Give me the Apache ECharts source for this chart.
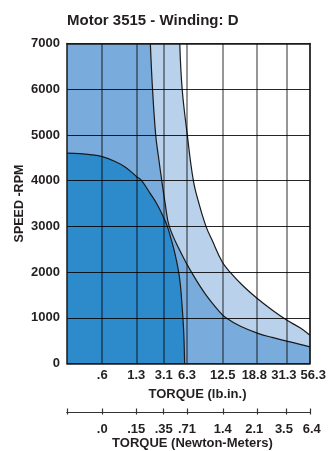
<!DOCTYPE html>
<html><head><meta charset="utf-8">
<script src="https://cdn.jsdelivr.net/npm/echarts@6/dist/echarts.min.js"></script>
<style>html,body{margin:0;padding:0;background:#fff}#c{width:332px;height:451px}</style>
</head><body><div id="c"></div>
<script>
const titleText = 'Motor 3515 - Winding: D';
const yName = 'SPEED -RPM';
const xName1 = 'TORQUE (lb.in.)';
const xName2 = 'TORQUE (Newton-Meters)';
const torqueLbIn = ['.6', '1.3', '3.1', '6.3', '12.5', '18.8', '31.3', '56.3'];
const torqueNm = ['.0', '.15', '.35', '.71', '1.4', '2.1', '3.5', '6.4'];
// positions of the torque ticks along the (non-linear) torque axis, 0..100
const tickPos = [14.5, 28.5, 39.8, 49.4, 64.1, 78.2, 90.4, 100];
const speedMin = 0, speedMax = 7000, speedStep = 1000;

// [axis position, rpm]
const darkCurve = [[0,4600],[5.3,4590],[9.5,4570],[14.5,4525],[19.8,4420],[23.9,4300],[28.7,4087],[30.7,4000],[34.2,3723],[37.0,3490],[39.6,3212],[41.3,3000],[42.8,2730],[44.4,2411],[45.8,2046],[46.7,1700],[47.3,1300],[47.7,1000],[48.1,600],[48.4,0]];
const innerCurve = [[34.3,7000],[35.2,6000],[36.5,5000],[37.7,4500],[39.0,4000],[40.4,3500],[42.1,3000],[47.1,2400],[51.2,2000],[56.8,1530],[62.8,1130],[65.4,1000],[71.2,820],[78.3,665],[84.4,570],[90.4,490],[95.9,420],[100,365]];
const outerCurve = [[46.4,7000],[47.4,6000],[49.5,5000],[52.0,4000],[54.3,3500],[57.2,3000],[59.7,2700],[63.9,2220],[67.1,2000],[72.4,1700],[78.3,1420],[84.4,1170],[90.4,950],[95.9,780],[100,620]];

const DARK = '#2d8bcc', MED = '#79acdc', LIGHT = '#b9d1eb';
const FONT = "'Liberation Sans', Arial, sans-serif";
const INK = '#231f20';
const txt = (size) => ({ fontFamily: FONT, fontWeight: 'bold', fontSize: size, color: INK });
// small horizontal nudges of individual tick labels (style only)
const nudgeLb = ['c', 'c', 'c', 'c', 'c', 'l', 'l', 'r'];
const nudgeNm = ['c', 'c', 'c', 'c', 'c', 'l', 'l', 'r2'];
const rich = {
  c: txt(13),
  l: Object.assign(txt(13), { padding: [0, 5.5, 0, 0] }),
  r: Object.assign(txt(13), { padding: [0, 0, 0, 6.5] }),
  r2: Object.assign(txt(13), { padding: [0, 0, 0, 3.5] })
};
const fmt = (arr, nudge) => v => { const i = tickPos.indexOf(v); return i >= 0 ? '{' + nudge[i] + '|' + arr[i] + '}' : ''; };
const even = tickPos.filter((v, i) => i % 2 === 0);
const odd = tickPos.filter((v, i) => i % 2 === 1);
const curveLine = { color: '#1a1a1a', width: 1.2 };
const labelAxis = (grid, vals, arr, nudge, margin) => ({
  gridIndex: grid, type: 'value', min: 0, max: 100, position: 'bottom', z: 5,
  axisLine: { show: false }, axisTick: { show: false }, splitLine: { show: false },
  axisLabel: Object.assign(txt(13), { customValues: vals, formatter: fmt(arr, nudge), rich: rich, margin: margin,
    showMaxLabel: true, showMinLabel: true, hideOverlap: false })
});

const chart = echarts.init(document.getElementById('c'), null, { renderer: 'canvas' });
chart.setOption({
  animation: false,
  backgroundColor: '#fff',
  title: {
    text: titleText, left: 67, top: 13, padding: 0,
    textStyle: txt(15)
  },
  grid: [
    { left: 67, top: 43.5, width: 243, height: 320, show: true, backgroundColor: MED, borderWidth: 0,
      containLabel: false, outerBoundsMode: 'none' },
    { left: 67, top: 412, width: 243, height: 0, containLabel: false, outerBoundsMode: 'none' }
  ],
  xAxis: [
    {
      gridIndex: 0, type: 'value', min: 0, max: 100, position: 'bottom', z: 5,
      name: xName1, nameLocation: 'middle', nameGap: 24, nameMoveOverlap: false,
      nameTextStyle: Object.assign(txt(13), { padding: [0, 0, 0, 18] }),
      axisLine: { show: true, onZero: false, lineStyle: { color: '#1a1a1a', width: 1.5 } },
      axisTick: { show: false, customValues: tickPos },
      axisLabel: { show: false },
      splitLine: { show: true, lineStyle: { color: 'rgba(0,0,0,0.55)', width: 1.5 } }
    },
    {
      gridIndex: 0, type: 'value', min: 0, max: 100, position: 'top', z: 5,
      axisLine: { show: true, onZero: false, lineStyle: { color: '#1a1a1a', width: 1.5 } },
      axisTick: { show: false }, axisLabel: { show: false }, splitLine: { show: false }
    },
    {
      gridIndex: 1, type: 'value', min: 0, max: 100, position: 'bottom',
      name: xName2, nameLocation: 'middle', nameGap: 24.5, nameMoveOverlap: false,
      nameTextStyle: Object.assign(txt(13), { padding: [0, 0, 0, 8] }),
      axisLine: { show: true, onZero: false, lineStyle: { color: '#333', width: 1.2 } },
      axisTick: { show: true, length: 2.5, customValues: [0].concat(tickPos), lineStyle: { color: '#333', width: 1.2 } },
      axisLabel: { show: false },
      splitLine: { show: false }
    },
    {
      gridIndex: 1, type: 'value', min: 0, max: 100, position: 'top',
      axisLine: { show: true, onZero: false, lineStyle: { color: '#333', width: 1.2 } },
      axisTick: { show: true, length: 3.5, customValues: [0].concat(tickPos), lineStyle: { color: '#333', width: 1.2 } },
      axisLabel: { show: false }, splitLine: { show: false }
    },
    labelAxis(0, even, torqueLbIn, nudgeLb, 5),
    labelAxis(0, odd, torqueLbIn, nudgeLb, 5),
    labelAxis(1, even, torqueNm, nudgeNm, 11),
    labelAxis(1, odd, torqueNm, nudgeNm, 11)
  ],
  yAxis: [
    {
      gridIndex: 0, type: 'value', min: speedMin, max: speedMax, interval: speedStep, z: 5,
      name: yName, nameLocation: 'middle', nameGap: 41, nameRotate: 90, nameMoveOverlap: false,
      nameTextStyle: txt(12.5),
      axisLine: { show: true, onZero: false, lineStyle: { color: '#1a1a1a', width: 1.5 } },
      axisTick: { show: false },
      axisLabel: Object.assign(txt(13), { margin: 7, padding: [3, 0, 0, 0], formatter: v => String(v) }),
      splitLine: { show: true, lineStyle: { color: 'rgba(0,0,0,0.85)', width: 1 } }
    },
    {
      gridIndex: 0, type: 'value', min: speedMin, max: speedMax, position: 'right', z: 5,
      axisLine: { show: true, onZero: false, lineStyle: { color: '#1a1a1a', width: 1.5 } },
      axisTick: { show: false }, axisLabel: { show: false }, splitLine: { show: false }
    },
    { gridIndex: 1, type: 'value', min: 0, max: 1, show: false }
  ],
  series: [
    { type: 'line', xAxisIndex: 0, yAxisIndex: 0, data: innerCurve, showSymbol: false, smooth: 0.4,
      lineStyle: curveLine, areaStyle: { color: LIGHT, opacity: 1, origin: 'end' }, z: 2 },
    { type: 'line', xAxisIndex: 0, yAxisIndex: 0, data: outerCurve, showSymbol: false, smooth: 0.4,
      lineStyle: curveLine, areaStyle: { color: '#ffffff', opacity: 1, origin: 'end' }, z: 2 },
    { type: 'line', xAxisIndex: 0, yAxisIndex: 0, data: darkCurve, showSymbol: false, smooth: 0.4,
      lineStyle: curveLine, areaStyle: { color: DARK, opacity: 1, origin: 'start' }, z: 2 }
  ]
});
</script></body></html>
